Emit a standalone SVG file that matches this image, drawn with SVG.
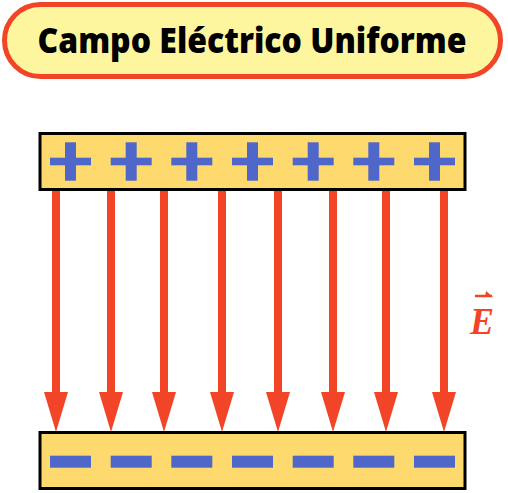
<svg xmlns="http://www.w3.org/2000/svg" width="508" height="493" viewBox="0 0 508 493">
<style>
.plate{fill:#fdd96e;stroke:#000;stroke-width:3}
.sign{fill:#4f67c9}
.shaft{fill:#f24426}
.title{font-family:"Open Sans",Lato,sans-serif;font-weight:800;font-size:35px;fill:#000}
.lbl{font-family:"Liberation Serif",serif;font-style:italic;font-weight:bold;font-size:38px;fill:#f24426}
</style>
<defs>
<g id="plus"><rect x="-20.5" y="-3.8" width="41" height="7.6" class="sign"/><rect x="-5.5" y="-19.2" width="11" height="38.4" class="sign"/></g>
<g id="minus"><rect x="-20.5" y="-6" width="41" height="12" class="sign"/></g>
<g id="arrow"><rect x="-4" y="190" width="8" height="204" class="shaft"/><polygon points="-12,392 12,392 0,432" class="shaft"/></g>
</defs>
<g id="title">
<rect x="4.5" y="4.5" width="496" height="72" rx="36" fill="#fef59f" stroke="#f24426" stroke-width="5"/>
<text x="252" y="53" text-anchor="middle" class="title" textLength="429" lengthAdjust="spacingAndGlyphs">Campo Eléctrico Uniforme</text>
</g>
<g id="connectors">
<use href="#arrow" x="56"/>
<use href="#arrow" x="111"/>
<use href="#arrow" x="164"/>
<use href="#arrow" x="222"/>
<use href="#arrow" x="278"/>
<use href="#arrow" x="333"/>
<use href="#arrow" x="386"/>
<use href="#arrow" x="444"/>
</g>
<g id="positive-plate">
<rect x="40" y="133.5" width="425" height="56" class="plate"/>
<use href="#plus" x="70.5" y="161.5"/>
<use href="#plus" x="131.2" y="161.5"/>
<use href="#plus" x="191.8" y="161.5"/>
<use href="#plus" x="252.5" y="161.5"/>
<use href="#plus" x="313.2" y="161.5"/>
<use href="#plus" x="373.8" y="161.5"/>
<use href="#plus" x="434.5" y="161.5"/>
</g>
<g id="negative-plate">
<rect x="40" y="432.5" width="425" height="56" class="plate"/>
<use href="#minus" x="70.5" y="461.7"/>
<use href="#minus" x="131.2" y="461.7"/>
<use href="#minus" x="191.8" y="461.7"/>
<use href="#minus" x="252.5" y="461.7"/>
<use href="#minus" x="313.2" y="461.7"/>
<use href="#minus" x="373.8" y="461.7"/>
<use href="#minus" x="434.5" y="461.7"/>
</g>
<g id="field-label">
<text x="470" y="334" class="lbl" textLength="24" lengthAdjust="spacingAndGlyphs">E</text>
<line x1="475" y1="296" x2="492" y2="296" stroke="#f24426" stroke-width="2.5"/>
<polygon points="493,297 486,291 485,297" fill="#f24426"/>
</g>
</svg>
